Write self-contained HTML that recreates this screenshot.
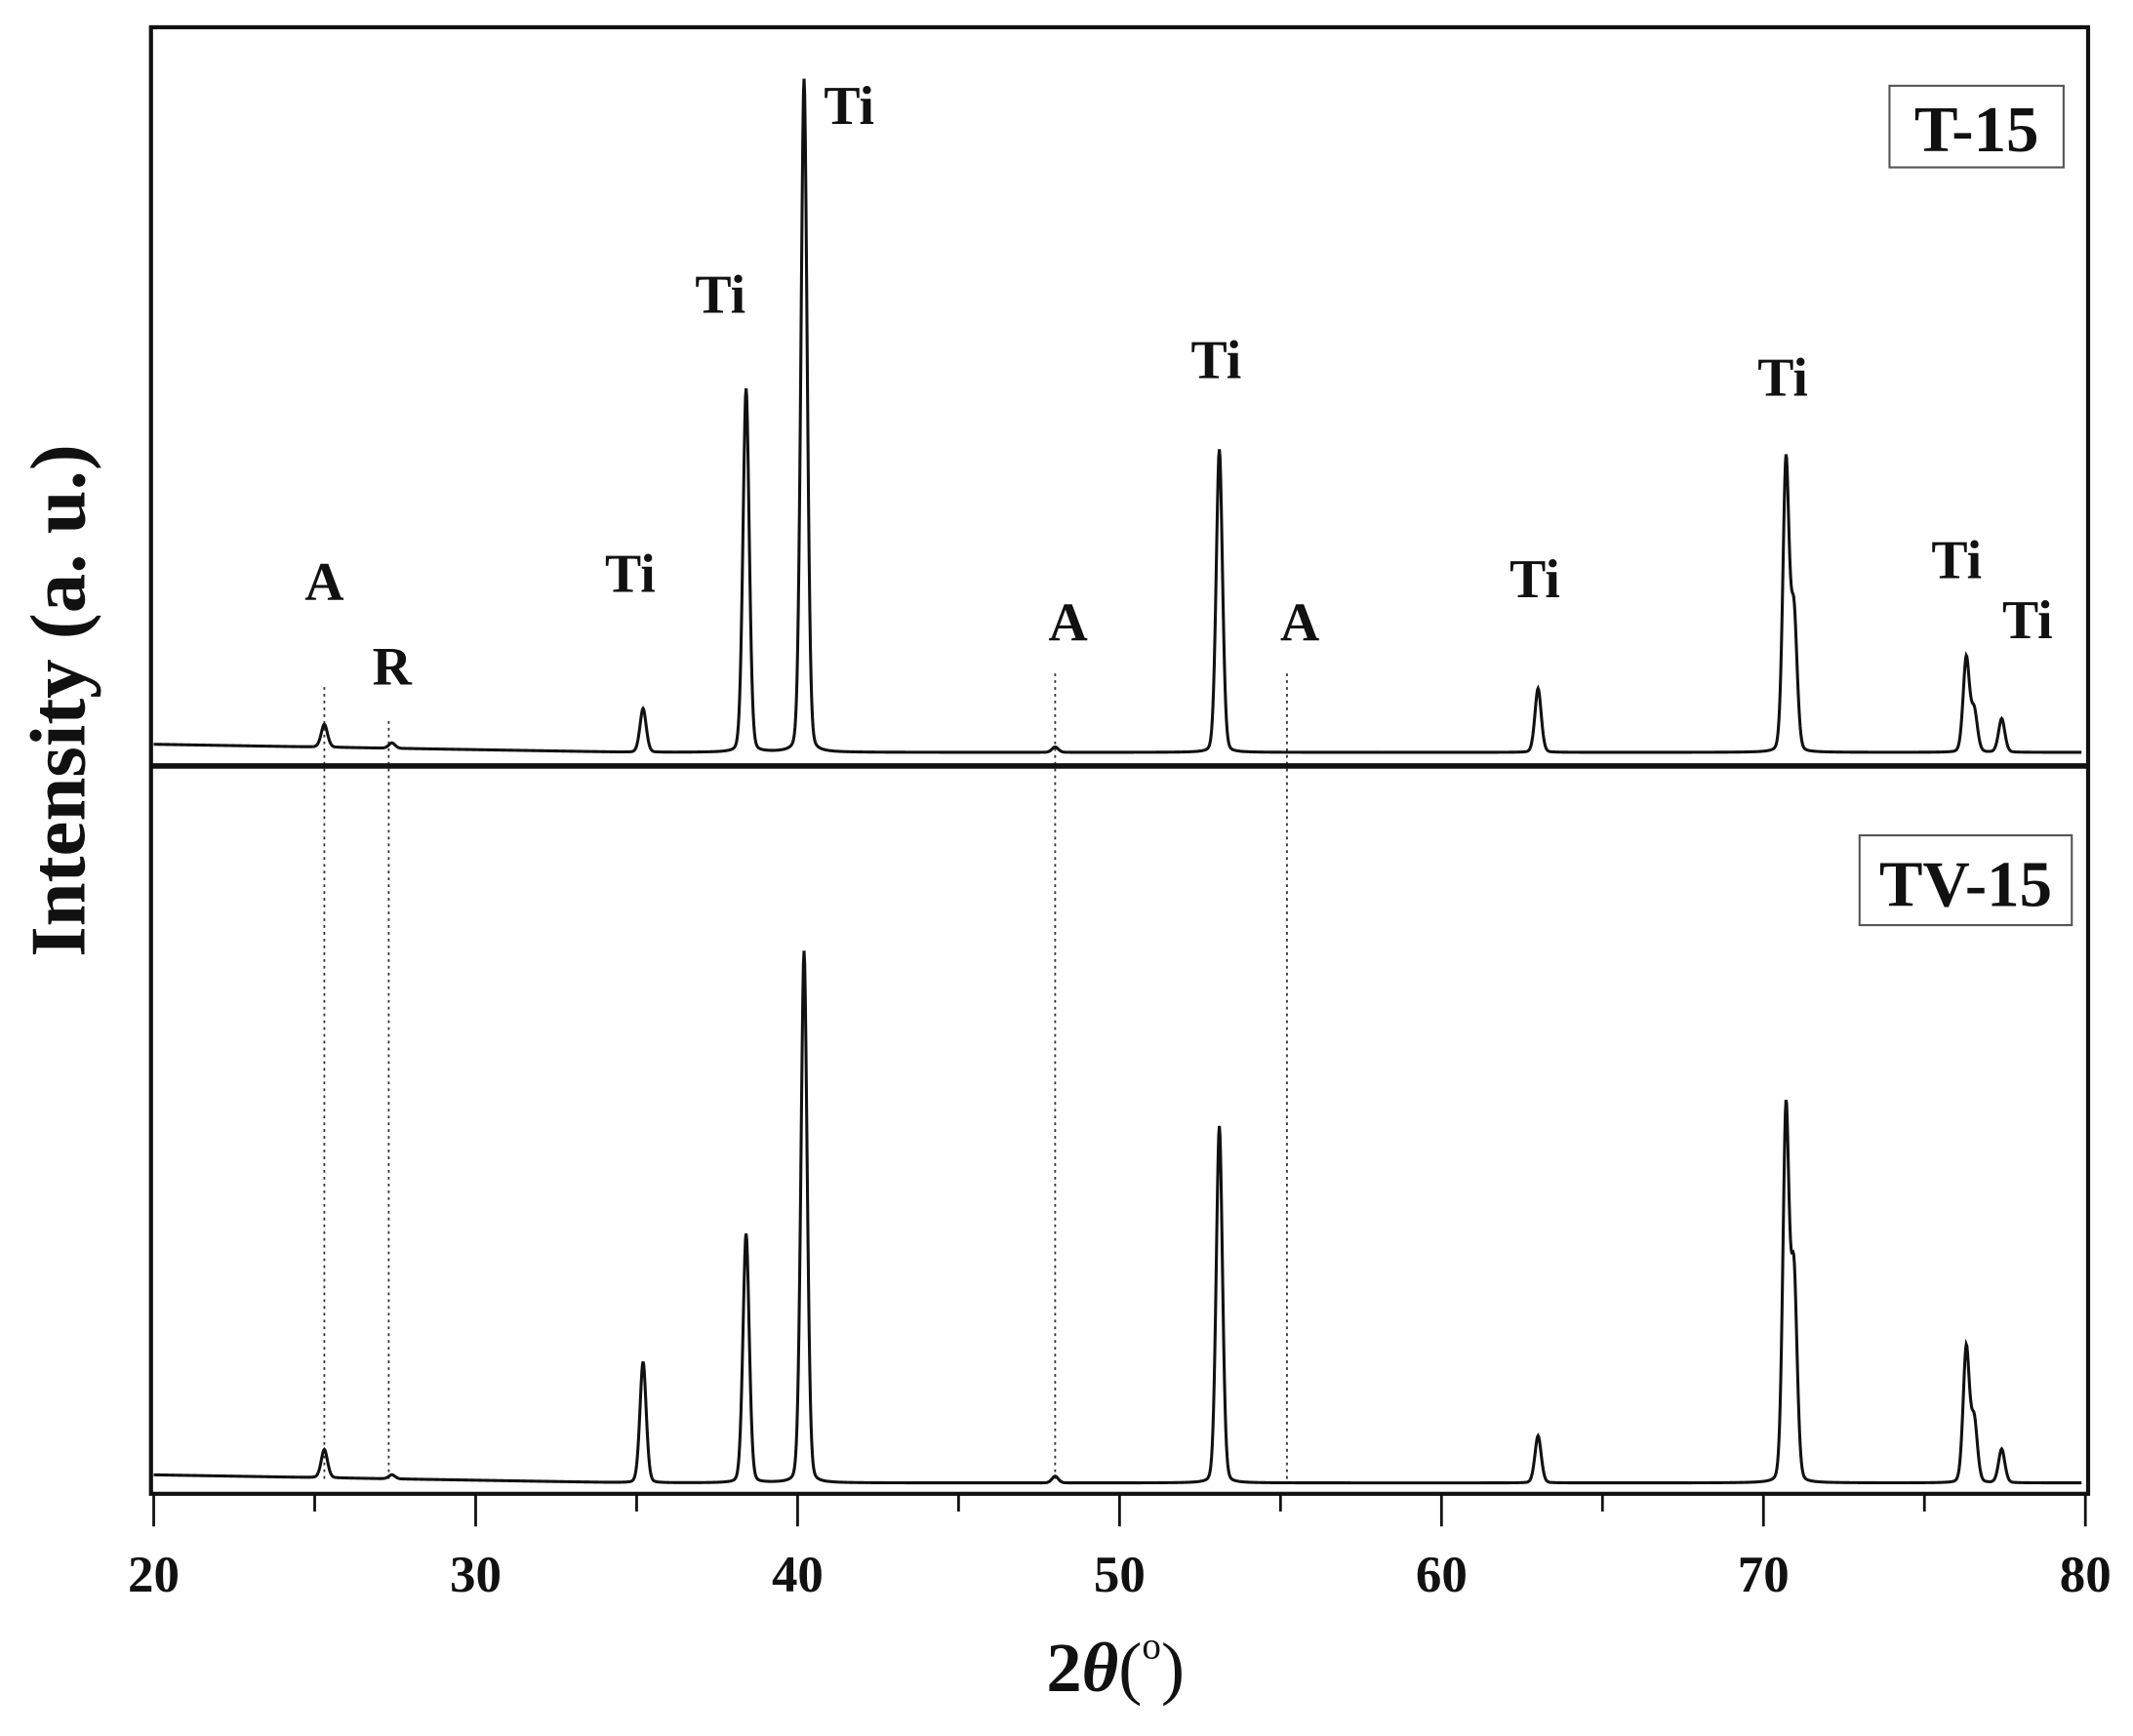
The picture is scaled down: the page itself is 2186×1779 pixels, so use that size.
<!DOCTYPE html>
<html><head><meta charset="utf-8"><style>
html,body{margin:0;padding:0;background:#fff;}
svg{display:block;}
text{font-family:"Liberation Serif",serif;font-weight:bold;fill:#111;}
</style></head><body>
<svg id="chart" width="2186" height="1779" viewBox="0 0 1568 1276" xmlns="http://www.w3.org/2000/svg">
<g id="plot"></g>
</svg>
<script>
const peakPos = [25.3, 27.4, 35.2, 38.4, 40.2, 48.0, 53.1, 63.0, 70.7, 70.95, 76.3, 76.55, 77.4];
const topHeights = [3.4, 0.8, 6.5, 54, 100, 0.8, 45, 9.5, 43, 20, 14, 6, 5];
const bottomHeights = [4.2, 0.6, 18, 37, 79, 1.0, 53, 7, 55, 30, 20, 9, 5];
const xTicks = [20, 30, 40, 50, 60, 70, 80];
const peakLabels = [
  {t:"A", x:25.3, y:428}, {t:"R", x:27.4, y:490}, {t:"Ti", x:34.8, y:422},
  {t:"Ti", x:37.6, y:217}, {t:"Ti", x:41.6, y:78}, {t:"A", x:48.4, y:458},
  {t:"Ti", x:53.0, y:265}, {t:"A", x:55.6, y:458}, {t:"Ti", x:62.9, y:426},
  {t:"Ti", x:70.6, y:278}, {t:"Ti", x:76.0, y:412}, {t:"Ti", x:78.2, y:456}
];
const refLines = [25.3, 27.3, 48.0, 55.2];
const refTops = [505, 530, 495, 495];

const svg = document.getElementById('plot');
const NS = 'http://www.w3.org/2000/svg';
const L = 111, R = 1535, T = 20, B = 1098, MID = 563;
const xs = v => 113 + (v - 20) * (1533 - 113) / 60;
const yTop = v => 553 - v * 4.95;
const yBot = v => 1090 - v * 4.95;
function el(tag, attrs) { const e = document.createElementNS(NS, tag); for (const k in attrs) e.setAttribute(k, attrs[k]); svg.appendChild(e); return e; }

function profile(heights, bg0) {
  const pts = [];
  for (let x = 20; x <= 79.9; x += 0.02) {
    let v = Math.max(0, bg0 * (35 - x) / 15);
    for (let i = 0; i < peakPos.length; i++) {
      const d = (x - peakPos[i]) / 0.12;
      const dl = (x - peakPos[i]) / 0.09;
      v += heights[i] * (0.8 * Math.exp(-0.693 * d * d) + 0.2 / (1 + dl * dl));
    }
    pts.push([x, v]);
  }
  return pts;
}
function drawSeries(heights, yf, name, bg0) {
  const pts = profile(heights, bg0);
  const d = pts.map((p, i) => (i ? 'L' : 'M') + xs(p[0]).toFixed(2) + ' ' + yf(p[1]).toFixed(2)).join('');
  const p = el('path', {d: d, fill: 'none', stroke: '#111', 'stroke-width': 2.2});
  
  
}

refLines.forEach((v, i) => {
  const l = el('line', {x1: xs(v), x2: xs(v), y1: refTops[i], y2: 1088, stroke: '#333', 'stroke-width': 1.3, 'stroke-dasharray': '2 3'});
  
  
});

drawSeries(topHeights, yTop, 't15-pattern', 1.2);
drawSeries(bottomHeights, yBot, 'tv15-pattern', 1.2);

const fr = el('rect', {x: L, y: T, width: R - L, height: B - T, fill: 'none', stroke: '#111', 'stroke-width': 3});


const dv = el('line', {x1: L, x2: R, y1: MID, y2: MID, stroke: '#111', 'stroke-width': 4});



for (let v = 20; v <= 80; v += 5) {
  const major = v % 10 === 0;
  const t = el('line', {x1: xs(v), x2: xs(v), y1: B, y2: B + (major ? 24 : 13), stroke: '#111', 'stroke-width': 2});
  
  
}
xTicks.forEach(v => {
  const t = el('text', {x: xs(v), y: 1170, 'text-anchor': 'middle', 'font-size': 38});
  t.textContent = v;
  
  
});

peakLabels.forEach(p => {
  const t = el('text', {x: xs(p.x), y: p.y + 13, 'text-anchor': 'middle', 'font-size': 40});
  t.textContent = p.t;
  
  
});

const b1 = el('rect', {x: 1389, y: 63, width: 128, height: 60, fill: '#fff', stroke: '#555', 'stroke-width': 1.5});


const s1 = el('text', {x: 1453, y: 111, 'text-anchor': 'middle', 'font-size': 48});
s1.textContent = 'T-15';


const b2 = el('rect', {x: 1367, y: 614, width: 156, height: 66, fill: '#fff', stroke: '#555', 'stroke-width': 1.5});


const s2 = el('text', {x: 1445, y: 666, 'text-anchor': 'middle', 'font-size': 48});
s2.textContent = 'TV-15';



const yl = el('text', {x: 0, y: 0, 'text-anchor': 'middle', 'font-size': 58, transform: 'translate(62,515) rotate(-90)'});
yl.textContent = 'Intensity (a. u.)';



const xl = el('text', {x: 820, y: 1243, 'text-anchor': 'middle', 'font-size': 52});
xl.innerHTML = '2<tspan font-style="italic">θ</tspan><tspan font-weight="normal">(</tspan><tspan font-size="28" dy="-24" font-weight="normal">o</tspan><tspan font-weight="normal" dy="24">)</tspan>';


</script>
</body></html>
